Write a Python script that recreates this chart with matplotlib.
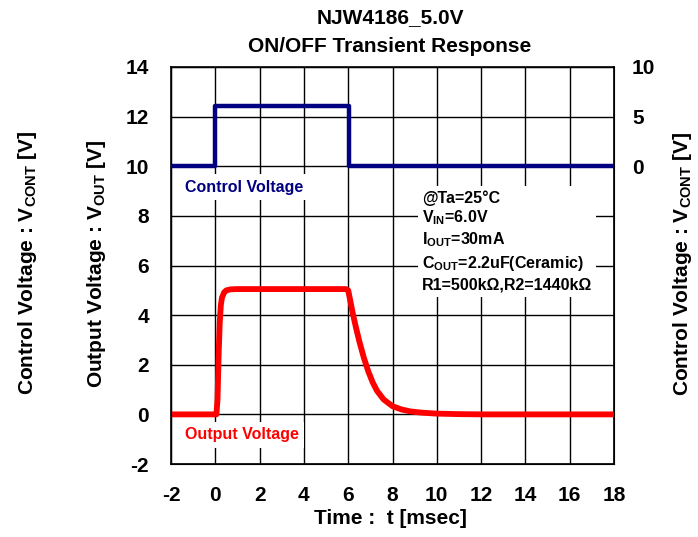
import matplotlib
matplotlib.use("Agg")
import matplotlib.pyplot as plt
from matplotlib.patches import Rectangle
from matplotlib.transforms import Bbox

plt.rcParams['font.family'] = ['Liberation Sans', 'DejaVu Sans']
plt.rcParams['font.weight'] = 'bold'
plt.rcParams['axes.unicode_minus'] = False
plt.rcParams['mathtext.fontset'] = 'custom'
plt.rcParams['mathtext.rm'] = 'Liberation Sans:bold'
plt.rcParams['mathtext.bf'] = 'Liberation Sans:bold'
plt.rcParams['mathtext.default'] = 'bf'

# control voltage (right axis, V)
t_cont = [-2, 0, 0, 6.05, 6.05, 18]
v_cont = [0, 0, 6.1, 6.1, 0, 0]

# output voltage (left axis, V)
t_out = [-2, 0.05, 0.1, 0.15, 0.2, 0.25, 0.3, 0.4, 0.5, 0.7, 1.0, 3.0, 5.9, 6.0,
         6.1, 6.2, 6.35, 6.5, 6.7, 6.9, 7.1, 7.3, 7.6, 8.0, 8.4, 8.8, 9.3, 10.0,
         11.0, 12.0, 18]
v_out = [0, 0, 0.6, 2.4, 3.7, 4.4, 4.7, 4.92, 5.0, 5.04, 5.05, 5.05, 5.05, 5.0,
         4.55, 4.1, 3.5, 2.95, 2.3, 1.75, 1.3, 0.95, 0.6, 0.33, 0.2, 0.12, 0.07, 0.03,
         0.01, 0.0, 0.0]

xticks = list(range(-2, 19, 2))
yticks = list(range(-2, 15, 2))
yticks_r = [0, 5, 10]

info = ['@Ta=25°C', 'V$_{IN}$=6.0V', 'I$_{OUT}$=30mA',
        'C$_{OUT}$=2.2uF(Ceramic)', 'R1=500kΩ,R2=1440kΩ']

fig = plt.figure(figsize=(6.98, 5.37), dpi=100)
ax = fig.add_axes([171 / 698, 1 - 464 / 537, 443 / 698, 397 / 537])
ax.set_xlim(-2, 18)
ax.set_ylim(-2, 14)
ax.set_xticks(xticks)
ax.set_yticks(yticks)
ax.grid(True, color='black', linewidth=1.0)
ax.tick_params(length=0, labelsize=15)
ax.tick_params(axis='x', pad=16)
ax.tick_params(axis='y', pad=16)
for s in ax.spines.values():
    s.set_linewidth(1.2)

ax2 = ax.twinx()
ax2.set_ylim(-30, 10)
ax2.set_yticks(yticks_r)
ax2.tick_params(length=0, labelsize=15, pad=13)

ax.plot(t_out, v_out, color='#ff0000', linewidth=4.2, solid_joinstyle='round', zorder=3)
ax2.plot(t_cont, v_cont, color='#000080', linewidth=3.2, zorder=3)

lbl = dict(fontsize=11.5, va='center', zorder=4,
           bbox=dict(facecolor='white', edgecolor='none', pad=4))
ax.text(-1.37, 9.16, 'Control Voltage', color='#000080', **lbl)
ax.text(-1.37, -0.83, 'Output Voltage', color='#ff0000', **lbl)

ys = [8.72, 7.91, 7.03, 6.10, 5.21]
info_texts = [ax.text(9.33, yv, s, fontsize=11.5, va='center', zorder=4)
              for s, yv in zip(info, ys)]

# white backdrop behind the condition block
fig.canvas.draw()
r = fig.canvas.get_renderer()
bb = Bbox.union([t.get_window_extent(r) for t in info_texts])
bb = bb.expanded(1.0, 1.0).padded(4)
bf = bb.transformed(fig.transFigure.inverted())
ax.add_patch(Rectangle((bf.x0, bf.y0), bf.width, bf.height, transform=fig.transFigure,
                       facecolor='white', edgecolor='none', zorder=2.8))

fig.text(390 / 698, 1 - 18 / 537, 'NJW4186_5.0V', ha='center', va='center', fontsize=15)
fig.text(390 / 698, 1 - 46 / 537, 'ON/OFF Transient Response', ha='center', va='center', fontsize=15)
fig.text(390 / 698, 1 - 518 / 537, 'Time :  t [msec]', ha='center', va='center', fontsize=15)

fig.text(28 / 698, 1 - 263 / 537, 'Control Voltage : V$_{CONT}$ [V]', rotation=90,
         ha='center', va='center', fontsize=15)
fig.text(97 / 698, 1 - 264 / 537, 'Output Voltage : V$_{OUT}$ [V]', rotation=90,
         ha='center', va='center', fontsize=15)
fig.text(683 / 698, 1 - 264 / 537, 'Control Voltage : V$_{CONT}$ [V]', rotation=90,
         ha='center', va='center', fontsize=15)

fig.savefig('out.png', dpi=100)
